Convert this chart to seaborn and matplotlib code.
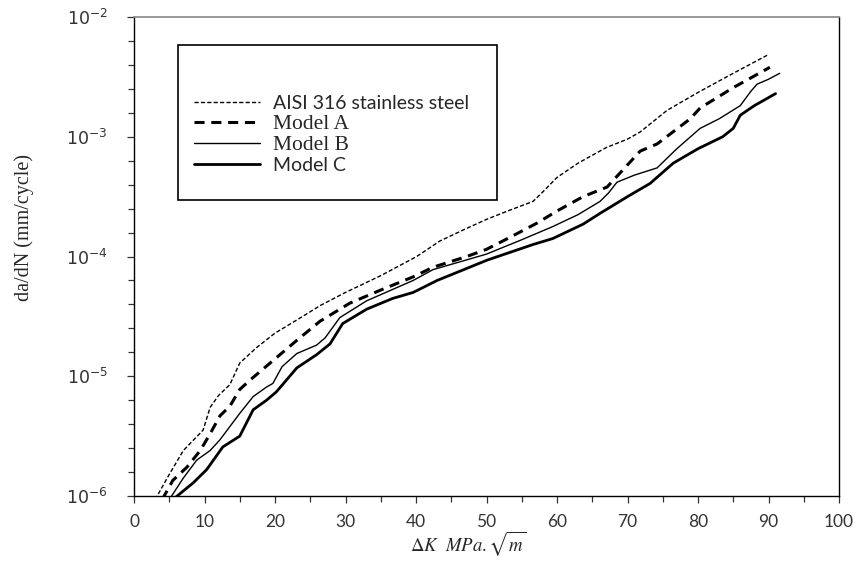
import numpy as np
import pandas as pd
import matplotlib
matplotlib.use("Agg")
import matplotlib.pyplot as plt
import seaborn as sns
from matplotlib.ticker import FixedLocator, NullFormatter
from matplotlib.patches import Rectangle
from matplotlib.lines import Line2D

# ---- data (x = Delta K, y = log10(da/dN)) ----
aisi_x = [3.0, 5.0, 7.0, 9.8, 10.8, 12.0, 13.6, 15.0, 17.4, 20.0, 23.1, 26.4, 30.0, 35.0,
          40.1, 43.4, 47.0, 50.0, 53.0, 56.6, 58.0, 60.0, 63.0, 67.0, 70.0, 71.8, 75.6,
          80.0, 85.0, 89.8]
aisi_log = [-6.03, -5.82, -5.62, -5.45, -5.26, -5.16, -5.07, -4.89, -4.76, -4.64, -4.53, -4.41,
            -4.30, -4.16, -4.00, -3.87, -3.77, -3.69, -3.62, -3.54, -3.46, -3.34, -3.22, -3.09,
            -3.02, -2.96, -2.78, -2.63, -2.47, -2.32]

a_x = [4.0, 5.5, 7.5, 9.4, 10.8, 12.2, 13.6, 15.0, 16.5, 19.3, 23.1, 26.4, 30.6, 35.0, 39.6,
       42.4, 47.2, 50.0, 53.0, 57.2, 60.0, 63.7, 67.1, 71.8, 74.2, 78.9, 80.3, 85.0, 90.2]
a_log = [-6.03, -5.87, -5.76, -5.62, -5.48, -5.33, -5.25, -5.11, -5.03, -4.89, -4.70, -4.54,
         -4.39, -4.28, -4.17, -4.09, -4.00, -3.94, -3.85, -3.72, -3.62, -3.50, -3.42, -3.12,
         -3.06, -2.85, -2.76, -2.59, -2.42]

b_x = [5.0, 7.0, 8.9, 10.8, 12.2, 13.6, 15.0, 16.9, 18.8, 19.7, 21.0, 23.1, 25.9, 27.1, 29.2,
       33.0, 39.6, 42.4, 50.0, 55.0, 59.4, 63.0, 66.1, 67.3, 68.5, 71.0, 74.2, 77.0, 80.3,
       83.0, 86.0, 87.5, 88.4, 90.0, 91.6]
b_log = [-6.03, -5.85, -5.70, -5.62, -5.53, -5.42, -5.31, -5.17, -5.09, -5.06, -4.92, -4.81,
         -4.74, -4.68, -4.51, -4.37, -4.20, -4.11, -3.98, -3.86, -3.75, -3.65, -3.54, -3.47,
         -3.38, -3.32, -3.26, -3.10, -2.93, -2.85, -2.74, -2.62, -2.56, -2.52, -2.47]

c_x = [5.5, 8.4, 10.3, 12.6, 15.0, 16.9, 18.8, 20.2, 23.1, 25.9, 27.8, 29.6, 33.0, 36.7, 39.6,
       43.0, 50.1, 56.6, 59.4, 63.7, 66.1, 70.0, 73.2, 76.5, 80.0, 83.5, 85.0, 86.0, 88.0, 91.0]
c_log = [-6.03, -5.89, -5.78, -5.59, -5.50, -5.28, -5.20, -5.13, -4.93, -4.82, -4.73, -4.56,
         -4.44, -4.35, -4.30, -4.20, -4.03, -3.90, -3.85, -3.73, -3.64, -3.50, -3.39, -3.22,
         -3.10, -3.00, -2.93, -2.82, -2.74, -2.64]

series_names = ["AISI 316 stainless steel", "Model A", "Model B", "Model C"]
x_ticks = [0, 10, 20, 30, 40, 50, 60, 70, 80, 90, 100]
y_decades = [-6, -5, -4, -3, -2]

frames = []
for name, xs, ls in zip(series_names, [aisi_x, a_x, b_x, c_x], [aisi_log, a_log, b_log, c_log]):
    frames.append(pd.DataFrame({"dK": xs, "dadN": 10.0 ** np.array(ls), "series": name}))
df = pd.concat(frames, ignore_index=True)

sns.set_theme(style="white")
plt.rcParams["font.family"] = ["DejaVu Sans"]
plt.rcParams["mathtext.fontset"] = "dejavusans"

fig = plt.figure(figsize=(8.55, 5.62), dpi=100)
ax = fig.add_axes([134 / 855, 1 - 496 / 562, 705 / 855, 479 / 562])

styles = {
    "AISI 316 stainless steel": dict(lw=1.0, dashes=(3.0, 1.6)),
    "Model A": dict(lw=2.2, dashes=(3.3, 2.2)),
    "Model B": dict(lw=1.0, dashes=()),
    "Model C": dict(lw=2.0, dashes=()),
}
handles = []
for name in series_names:
    sub = df[df["series"] == name]
    st = styles[name]
    sns.lineplot(data=sub, x="dK", y="dadN", ax=ax, color="black", lw=st["lw"],
                 sort=False, estimator=None, legend=False, dashes=False)
    line = ax.get_lines()[-1]
    line.set_solid_joinstyle("round")
    line.set_dash_joinstyle("round")
    if st["dashes"]:
        line.set_dashes(st["dashes"])
    h = Line2D([], [], color="black", lw=st["lw"])
    if st["dashes"]:
        h.set_dashes(st["dashes"])
    handles.append(h)

ax.set_yscale("log")
ax.set_xlim(0, 100)
ax.set_ylim(1e-6, 1e-2)
ax.set_xticks(x_ticks)
ax.set_xticklabels([str(t) for t in x_ticks], fontfamily="Lato", fontsize=12.5, color="#333333")
ax.xaxis.set_minor_locator(FixedLocator(np.arange(5, 100, 10)))
ax.set_yticks([10.0 ** d for d in y_decades])
ax.set_yticklabels([r"$10^{%d}$" % d for d in y_decades], fontsize=12.5, color="#333333")
minors = [10.0 ** (d + i / 5) for d in y_decades[:-1] for i in range(1, 5)]
ax.yaxis.set_minor_locator(FixedLocator(minors))
ax.yaxis.set_minor_formatter(NullFormatter())
ax.tick_params(axis="both", which="major", direction="out", length=5, width=0.9,
               color="#333333", bottom=True, left=True)
ax.tick_params(axis="both", which="minor", direction="out", length=4, width=0.9,
               color="#333333", bottom=True, left=True)
ax.tick_params(axis="x", which="major", pad=8)
ax.tick_params(axis="y", which="major", pad=14)

for side in ["left", "right", "bottom"]:
    ax.spines[side].set_color("black")
    ax.spines[side].set_linewidth(1.0)
ax.spines["top"].set_color("#888888")
ax.spines["top"].set_linewidth(1.2)

ax.set_xlabel(r"$\Delta K\ \ MPa.\sqrt{m}$", fontsize=13.5)
ax.xaxis.label.set_math_fontfamily("stix")
ax.xaxis.set_label_coords(0.474, -0.068)
ax.set_ylabel("da/dN (mm/cycle)", fontfamily="Liberation Serif", fontsize=14.5)
ax.yaxis.set_label_coords(-0.142, 0.56)

# legend box
box = Rectangle((0.062, 0.618), 0.453, 0.324, transform=ax.transAxes, fill=True,
                facecolor="white", edgecolor="black", lw=1.2, zorder=5)
ax.add_patch(box)
leg = ax.legend(handles, series_names, loc="upper left", bbox_to_anchor=(0.066, 0.865),
                frameon=False, fontsize=14, handlelength=3.4, handletextpad=0.65,
                labelspacing=0.12, borderaxespad=0.3)
leg.set_zorder(6)
fams = ["Lato", "Liberation Serif", "Liberation Serif", "Lato"]
sizes = [14, 15.5, 15.5, 14]
for t, fam, s in zip(leg.get_texts(), fams, sizes):
    t.set_fontfamily(fam)
    t.set_fontsize(s)

fig.savefig("out.png", dpi=100)
